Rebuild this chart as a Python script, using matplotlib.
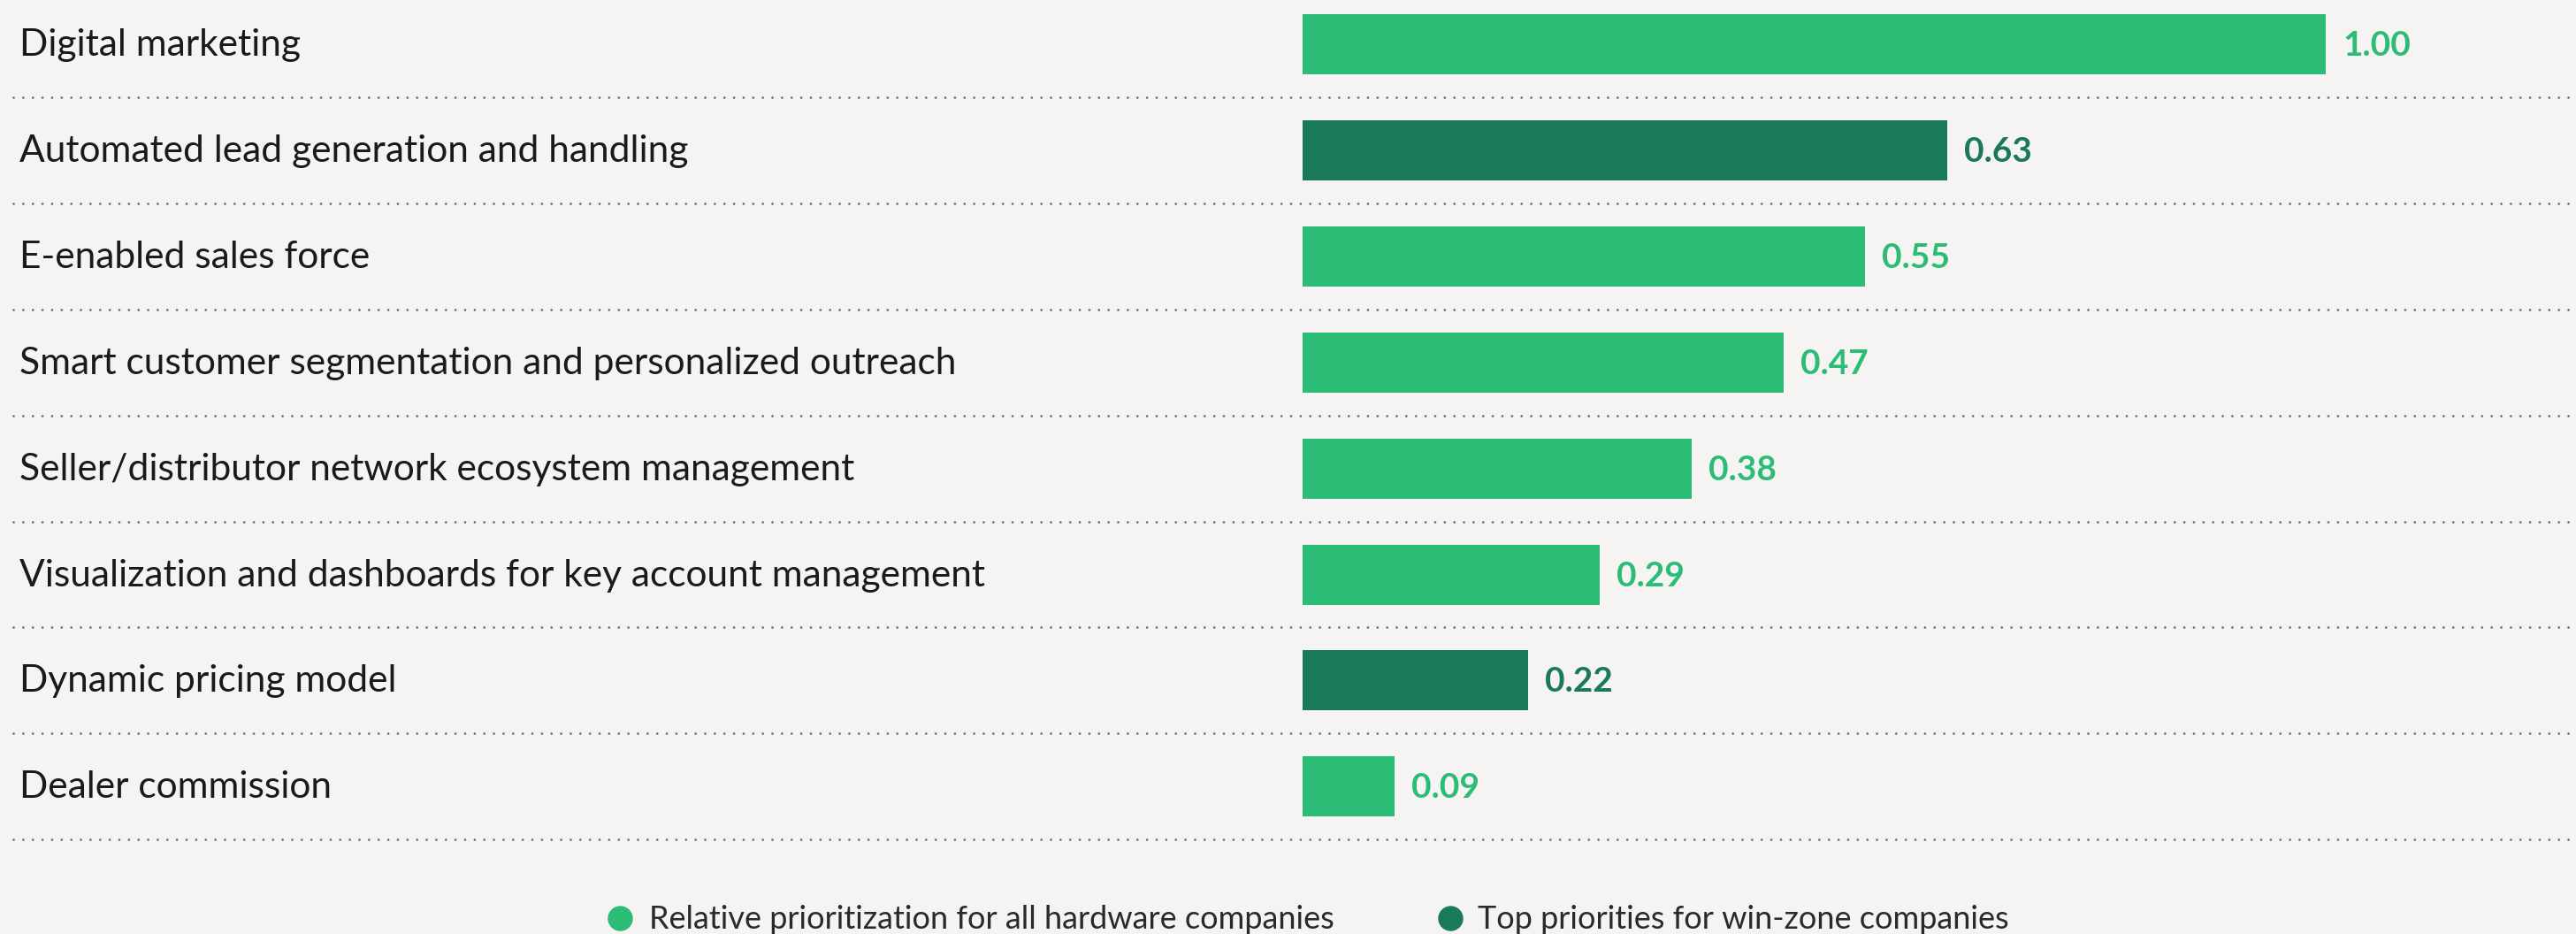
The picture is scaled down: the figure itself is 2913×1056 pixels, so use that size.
import matplotlib
matplotlib.use("Agg")
import matplotlib.pyplot as plt

# ---------------------------------------------------------------------------
# Data
# ---------------------------------------------------------------------------

categories = [
    "Digital marketing",
    "Automated lead generation and handling",
    "E-enabled sales force",
    "Smart customer segmentation and personalized outreach",
    "Seller/distributor network ecosystem management",
    "Visualization and dashboards for key account management",
    "Dynamic pricing model",
    "Dealer commission",
]
values = [1.00, 0.63, 0.55, 0.47, 0.38, 0.29, 0.22, 0.09]
win_zone = [False, True, False, False, False, False, True, False]

legend_labels = [
    "Relative prioritization for all hardware companies",
    "Top priorities for win-zone companies",
]

# ---------------------------------------------------------------------------
# Style / layout (pixel based, figure is 2913 x 1056 at dpi 100)
# ---------------------------------------------------------------------------

LIGHT = "#2bbd75"
DARK = "#1a7a57"
BG = "#f5f4f2"
TEXT = "#1a1a1a"
DOTS = "#6e6e6e"

W, H = 2913, 1056
PX_UNIT = 1157.0     # pixels per unit of value
BAR_X0 = 1473.0      # pixel x of value 0
ROW0 = 50.0          # pixel y of first row centre
ROW_H = 119.9        # pixel distance between rows

FONT = ["Lato", "DejaVu Sans"]


def px_x(px):
    return (px - BAR_X0) / PX_UNIT


def px_y(px):
    return (px - ROW0) / ROW_H


fig = plt.figure(figsize=(W / 100, H / 100), dpi=100, facecolor=BG)
ax = fig.add_axes([0, 0, 1, 1])
ax.set_facecolor(BG)
ax.set_xlim(px_x(0), px_x(W))
ax.set_ylim(px_y(H), px_y(0))
ax.axis("off")

ypos = list(range(len(categories)))
colors = [DARK if w else LIGHT for w in win_zone]

ax.barh(ypos, values, height=68 / ROW_H, color=colors, left=0)

base_off = 13 / ROW_H
for y, cat, v, c in zip(ypos, categories, values, colors):
    ax.text(px_x(22), y + base_off, cat, ha="left", va="baseline",
            fontsize=30.6, color=TEXT, family=FONT)
    ax.text(v + 19 / PX_UNIT, y + base_off, f"{v:.2f}", ha="left",
            va="baseline", fontsize=28, fontweight="bold", color=c,
            family=FONT)

# dotted separators below every row
for y in ypos:
    ax.plot([px_x(15), px_x(2905)], [y + 0.5, y + 0.5], color=DOTS,
            lw=2.0, linestyle=(0, (0.01, 3.9)), dash_capstyle="round",
            solid_capstyle="round")

# legend
leg_y = px_y(1038)
for mx, tx, lab, c in zip([701, 1640], [734, 1671], legend_labels,
                          [LIGHT, DARK]):
    ax.scatter([px_x(mx)], [leg_y], s=(27 * 0.72) ** 2, color=c,
               clip_on=False, zorder=3)
    ax.text(px_x(tx), leg_y + 12 / ROW_H, lab, ha="left", va="baseline",
            fontsize=26, color="#2a2a2a", family=FONT)

fig.savefig("out.png", dpi=100, facecolor=BG)
